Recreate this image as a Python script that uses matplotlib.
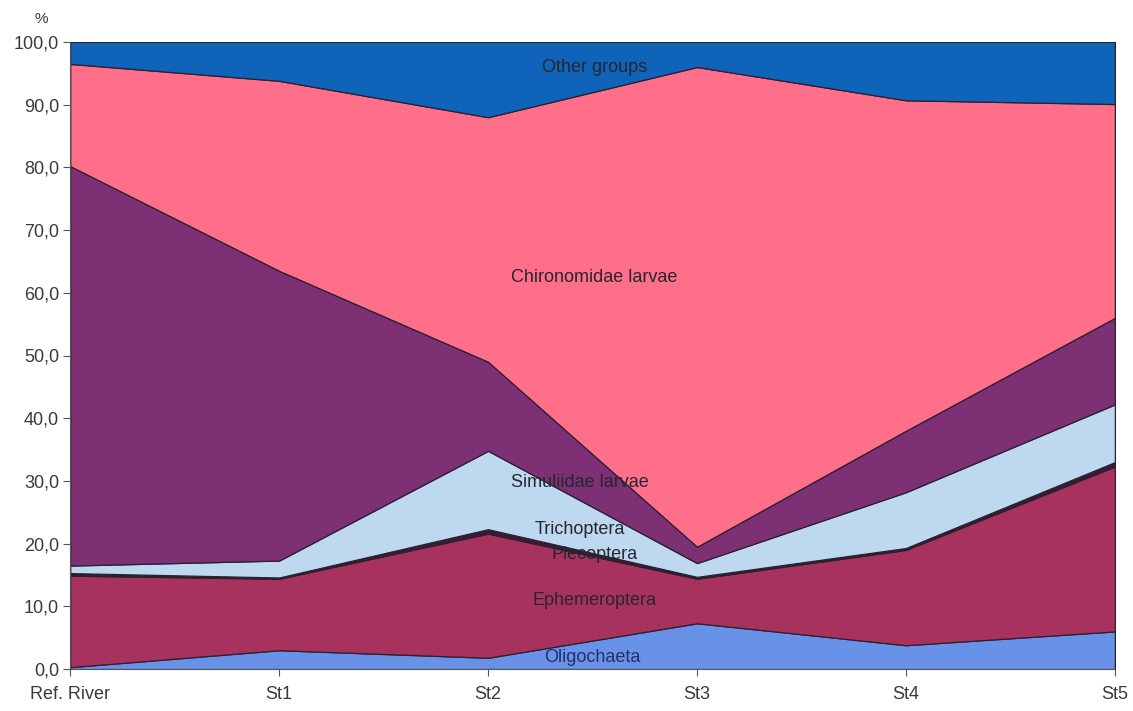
import numpy as np
import matplotlib.pyplot as plt

plt.rcParams['font.family'] = ['Liberation Sans', 'DejaVu Sans']

stations = ['Ref. River', 'St1', 'St2', 'St3', 'St4', 'St5']

# percentages per group, bottom to top
oligochaeta = [0.3, 3.0, 1.8, 7.3, 3.8, 6.0]
ephemeroptera = [14.6, 11.4, 19.8, 7.1, 15.2, 26.3]
plecoptera = [0.4, 0.2, 0.7, 0.3, 0.3, 0.7]
trichoptera = [1.2, 2.7, 12.5, 2.2, 8.9, 9.2]
simuliidae = [63.7, 46.2, 14.2, 2.6, 9.8, 13.8]
chironomidae = [16.3, 30.3, 39.0, 76.5, 52.7, 34.1]
other_groups = [3.5, 6.2, 12.0, 4.0, 9.3, 9.9]

groups = [oligochaeta, ephemeroptera, plecoptera, trichoptera,
          simuliidae, chironomidae, other_groups]
colors = ['#6892e8', '#a8325e', '#3c1a35', '#bed8ef',
          '#7d3174', '#ff6f8a', '#0f63b8']

fig = plt.figure(figsize=(11.33, 7.11), dpi=100)
ax = fig.add_axes([0.062, 0.059, 0.922, 0.882])

x = np.arange(len(stations))
ax.stackplot(x, *groups, colors=colors, edgecolor='#2a2030', linewidth=0.9)

ax.set_xlim(0, len(stations) - 1)
ax.set_ylim(0, 100)
ax.set_xticks(x)
ax.set_xticklabels(stations, fontsize=13, color='#3a3a3a')
yt = np.arange(0, 101, 10)
ax.set_yticks(yt)
ax.set_yticklabels([('%.1f' % v).replace('.', ',') for v in yt],
                   fontsize=13, color='#3a3a3a')
ax.tick_params(direction='out', length=5, color='#555555')
ax.tick_params(axis='x', pad=7)
ax.tick_params(axis='y', pad=3)

for s in ['top', 'right']:
    ax.spines[s].set_visible(False)
ax.spines['left'].set_color('#555555')
ax.spines['bottom'].set_color('#555555')

fig.text(0.036, 0.973, '%', fontsize=11, color='#3a3a3a', ha='center', va='center')

# labels inside the areas
lab = dict(fontsize=13, color='#262630', ha='center', va='center')
ax.text(2.51, 96.0, 'Other groups', **lab)
ax.text(2.51, 62.5, 'Chironomidae larvae', **lab)
ax.text(2.44, 29.7, 'Simuliidae larvae', **lab)
ax.text(2.44, 22.2, 'Trichoptera', **lab)
ax.text(2.51, 18.2, 'Plecoptera', **lab)
ax.text(2.51, 11.0, 'Ephemeroptera', **lab)
ax.text(2.50, 1.9, 'Oligochaeta', fontsize=13, color='#24306a', ha='center', va='center')

fig.savefig('out.png', dpi=100)
